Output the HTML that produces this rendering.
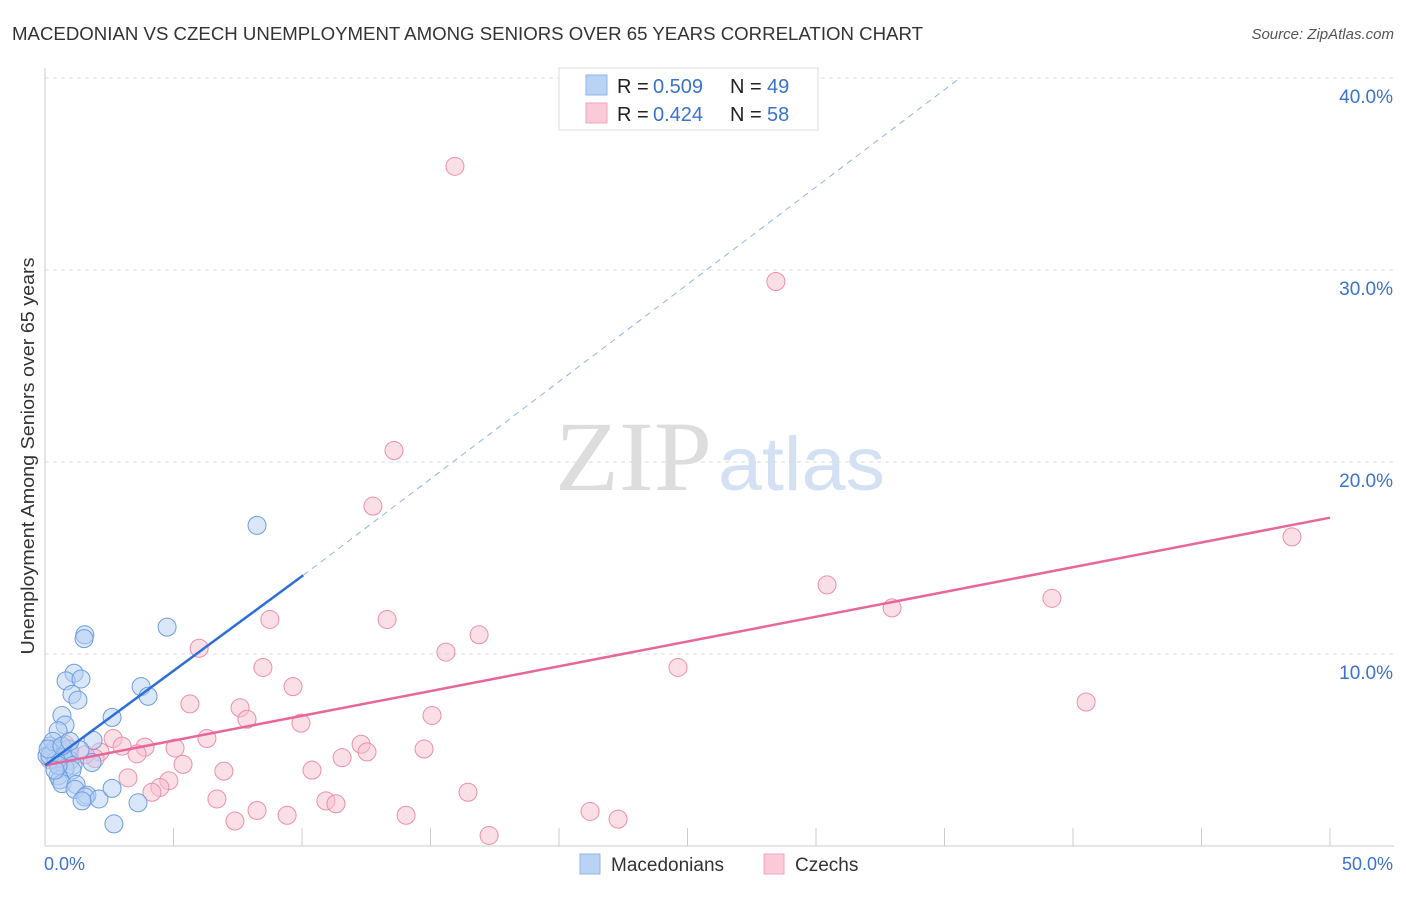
<!DOCTYPE html>
<html><head><meta charset="utf-8"><style>
body{margin:0;background:#fff;font-family:"Liberation Sans",sans-serif}
svg text{font-family:"Liberation Sans",sans-serif}
</style></head><body>
<svg id="chart" width="1406" height="892" xmlns="http://www.w3.org/2000/svg">
<text x="12" y="40" font-size="18" fill="#333" textLength="911" lengthAdjust="spacingAndGlyphs">MACEDONIAN VS CZECH UNEMPLOYMENT AMONG SENIORS OVER 65 YEARS CORRELATION CHART</text>
<text x="1394" y="39" font-size="15" fill="#555" font-style="italic" text-anchor="end">Source: ZipAtlas.com</text>
<text x="712" y="490" font-size="100" fill="#ddd" text-anchor="end" style="font-family:'Liberation Serif',serif" textLength="157" lengthAdjust="spacingAndGlyphs">ZIP</text>
<text x="718" y="490" font-size="76" fill="#d4e0f3" textLength="167" lengthAdjust="spacingAndGlyphs">atlas</text>
<g id="grid"></g>
<g id="axes"></g>
<g id="marks"></g>
<text transform="translate(34,456) rotate(-90)" font-size="18" fill="#333" text-anchor="middle" textLength="397" lengthAdjust="spacingAndGlyphs">Unemployment Among Seniors over 65 years</text>
<text x="44" y="870" font-size="18" fill="#3a72d0">0.0%</text>
<text x="1393" y="870" font-size="18" fill="#3a72d0" text-anchor="end">50.0%</text>
<g>
<rect x="559" y="68" width="259" height="62" fill="#fff" stroke="#ddd"/>
<rect x="586" y="75" width="21" height="20" fill="#b9d3f5" stroke="#8fb5ea"/>
<rect x="586" y="103" width="21" height="20" fill="#fbcad8" stroke="#f3a3bb"/>
<text x="617" y="93" font-size="20" fill="#222">R =<tspan x="653" fill="#3a72d0">0.509</tspan><tspan x="730">N =</tspan><tspan x="767" fill="#3a72d0">49</tspan></text>
<text x="617" y="121" font-size="20" fill="#222">R =<tspan x="653" fill="#3a72d0">0.424</tspan><tspan x="730">N =</tspan><tspan x="767" fill="#3a72d0">58</tspan></text>
</g>
<g>
<rect x="580" y="854" width="20" height="20" fill="#b9d3f5" stroke="#8fb5ea"/>
<text x="611" y="871" font-size="19" fill="#333">Macedonians</text>
<rect x="764" y="854" width="20" height="20" fill="#fbcad8" stroke="#f3a3bb"/>
<text x="795" y="871" font-size="19" fill="#333">Czechs</text>
</g>
</svg>
<script>
const yTicks=[10,20,30,40];
const yTickLabels=["10.0%","20.0%","30.0%","40.0%"];
const xTicks=[5,10,15,20,25,30,35,40,45,50];
const macX=[8.25,4.75,1.55,1.52,1.13,0.82,1.4,1.05,1.28,3.74,4.01,0.66,0.78,2.61,0.51,1.87,0.19,0.39,0.58,0.27,0.93,0.08,0.7,0.97,0.43,1.83,1.09,0.78,1.05,0.51,0.58,0.66,1.21,1.17,1.63,1.56,2.1,1.44,2.61,3.62,2.68,0.19,0.31,0.12,0.66,1.36,0.51,0.97,0.39];
const macY=[16.7,11.4,11.0,10.8,9.0,8.6,8.7,7.9,7.6,8.3,7.8,6.8,6.3,6.7,6.0,5.5,5.2,5.05,4.95,4.85,5.05,4.7,4.6,4.45,4.45,4.35,4.2,4.05,3.95,3.65,3.45,3.25,3.2,2.95,2.65,2.55,2.45,2.35,3.0,2.25,1.15,4.7,5.45,5.05,5.2,5.0,4.2,5.45,3.95];
const czX=[15.95,28.44,13.58,12.76,48.52,30.43,32.96,39.18,8.75,13.31,16.89,15.6,6.0,8.48,24.63,9.65,40.51,5.64,7.59,7.86,15.06,9.96,6.3,2.65,3.0,5.06,3.89,12.3,12.53,14.75,11.56,2.14,3.58,1.95,5.37,6.96,10.39,3.23,4.82,4.47,4.16,6.69,10.93,11.32,16.46,8.25,9.42,14.05,21.21,22.3,7.39,17.28,0.58,0.97,1.56,0.19,0.78,0.51];
const czY=[35.4,29.4,20.6,17.7,16.1,13.6,12.4,12.9,11.8,11.8,11.0,10.1,10.3,9.3,9.3,8.3,7.5,7.4,7.2,6.6,6.8,6.4,5.6,5.6,5.2,5.1,5.15,5.3,4.9,5.05,4.6,4.9,4.8,4.55,4.25,3.9,3.95,3.55,3.4,3.05,2.8,2.45,2.35,2.2,2.8,1.85,1.6,1.6,1.8,1.4,1.3,0.55,5.15,4.9,4.75,4.5,5.3,4.4];
const macLine=[[0,4.2],[10.05,14.1]];
const macDash=[[10.05,14.1],[35.6,40]];
const czLine=[[0,4.2],[50,17.1]];
const ns="http://www.w3.org/2000/svg";
const X0=45,X1=1330,Y0=846,YPER=19.2;
const sx=v=>X0+(X1-X0)*v/50;
const sy=v=>Y0-v*YPER;
function mk(tag,attrs,parent){const e=document.createElementNS(ns,tag);for(const k in attrs)e.setAttribute(k,attrs[k]);parent.appendChild(e);return e;}
const grid=document.getElementById('grid'),axes=document.getElementById('axes'),marks=document.getElementById('marks');
yTicks.forEach((t,i)=>{
 const l=mk('line',{x1:X0,x2:1394,y1:sy(t),y2:sy(t),stroke:'#ddd','stroke-dasharray':'4,4'},grid);
 
 
 const tx=mk('text',{x:1393,y:sy(t)+25,'font-size':19,fill:'#3a72d0','text-anchor':'end'},grid);
 tx.textContent=yTickLabels[i];
 
 
});
const ya=mk('line',{x1:X0,x2:X0,y1:68,y2:Y0,stroke:'#ccc'},axes);


const xa=mk('line',{x1:X0,x2:1394,y1:Y0,y2:Y0,stroke:'#ccc'},axes);


xTicks.forEach(t=>{
 const l=mk('line',{x1:sx(t),x2:sx(t),y1:Y0-18,y2:Y0,stroke:'#ccc'},axes);
 
 
});
function pts(xs,ys,fill,stroke,name){xs.forEach((x,i)=>{
 const c=mk('circle',{cx:sx(x),cy:sy(ys[i]),r:9,fill:fill,'fill-opacity':0.5,stroke:stroke,'stroke-width':1},marks);
 
 
});}
pts(czX,czY,'#f8c0d0','#ec8fab','czech-point');
pts(macX,macY,'#b5cff3','#6d9de0','macedonian-point');
function line(p,stroke,w,dash,name){
 const l=mk('line',{x1:sx(p[0][0]),y1:sy(p[0][1]),x2:sx(p[1][0]),y2:sy(p[1][1]),stroke:stroke,'stroke-width':w},marks);
 if(dash)l.setAttribute('stroke-dasharray',dash);
 
 
}
line(czLine,'#e8679a',2.5,null,'czech-trendline');
line(macLine,'#2d6fd6',2.5,null,'macedonian-trendline');
line(macDash,'#8fb3e6',1,'6,5','macedonian-trendline-extension');
</script>
</body></html>
